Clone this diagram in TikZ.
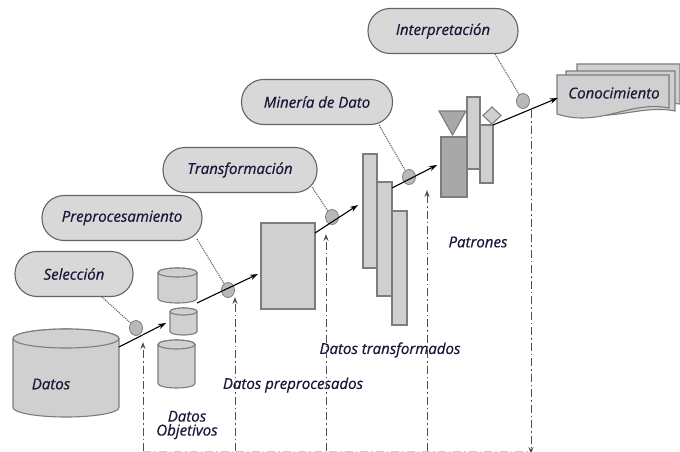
\documentclass[tikz,border=0pt]{standalone}
\usepackage{fontspec}
\setmainfont{Open Sans}[ItalicFeatures={FakeBold=0.6}]
\usetikzlibrary{shapes.geometric,arrows.meta,positioning}
\definecolor{boxfill}{RGB}{216,216,216}
\definecolor{boxline}{RGB}{100,100,100}
\definecolor{shapefill}{RGB}{208,208,208}
\definecolor{shapeline}{RGB}{125,125,125}
\definecolor{darkfill}{RGB}{168,168,168}
\definecolor{dotfill}{RGB}{185,185,185}
\definecolor{labelblue}{RGB}{24,24,58}
\definecolor{loopgray}{RGB}{80,80,80}
\tikzset{
  labelfont/.style={font=\fontsize{15}{17}\selectfont\itshape, text=labelblue},
  stagebox/.style={draw=boxline, fill=boxfill, rounded corners=22pt, minimum height=45pt, inner sep=0pt, line width=1.1pt, labelfont},
  bar/.style={draw=shapeline, fill=shapefill, inner sep=0pt, outer sep=0pt, line width=1.1pt},
  knot/.style={ellipse, draw=shapeline, fill=dotfill, minimum width=13pt, minimum height=15pt, inner sep=0pt, line width=0.8pt},
  flow/.style={-{Stealth[length=8pt,width=5.5pt]}, line width=1.1pt},
  hint/.style={densely dotted, line width=1.1pt, boxline},
  loopline/.style={loopgray, line width=1pt, dash pattern=on 8pt off 3pt on 1.5pt off 3pt},
}
\begin{document}
\begin{tikzpicture}[x=1pt, y=-1pt]
\useasboundingbox (0,0) rectangle (680,452);

%stages
\node (sel) [stagebox, minimum width=118pt] at (74,274) {Selección};
\node (prep) [stagebox, minimum width=160pt] at (122,218) {Preprocesamiento};
\node (trans) [stagebox, minimum width=154pt] at (240,170) {Transformación};
\node (mine) [stagebox, minimum width=151pt] at (317,102) {Minería de Dato};
\node (interp) [stagebox, minimum width=150pt] at (443,31) {Interpretación};

%data stores
\draw[bar] (13,338.5) -- (13,407.5) arc[start angle=180, end angle=0, x radius=53, y radius=9.5] -- (119,338.5) arc[start angle=0, end angle=-180, x radius=53, y radius=9.5];
\draw[bar] (66,338.5) ellipse[x radius=53, y radius=9.5];
\node (datos) [labelfont] at (51,384) {Datos};
\draw[bar] (158,272.5) -- (158,298.5) arc[start angle=180, end angle=0, x radius=19.5, y radius=4.5] -- (197,272.5) arc[start angle=0, end angle=-180, x radius=19.5, y radius=4.5];
\draw[bar] (177.5,272.5) ellipse[x radius=19.5, y radius=4.5];
\draw[bar] (170,311.5) -- (170,331.5) arc[start angle=180, end angle=0, x radius=13.5, y radius=3.5] -- (197,311.5) arc[start angle=0, end angle=-180, x radius=13.5, y radius=3.5];
\draw[bar] (183.5,311.5) ellipse[x radius=13.5, y radius=3.5];
\draw[bar] (158,344.5) -- (158,383.5) arc[start angle=180, end angle=0, x radius=18.5, y radius=4.5] -- (195,344.5) arc[start angle=0, end angle=-180, x radius=18.5, y radius=4.5];
\draw[bar] (176.5,344.5) ellipse[x radius=18.5, y radius=4.5];

%preprocessed, transformed, patterns
\node (pre) [bar, minimum width=54pt, minimum height=86pt] at (288,266) {};
\node (tr1) [bar, minimum width=14pt, minimum height=114pt] at (370,211) {};
\node (tr2) [bar, minimum width=15pt, minimum height=114pt] at (384.5,239) {};
\node (tr3) [bar, minimum width=15pt, minimum height=114pt] at (399.5,268) {};
\node (pat1) [bar, fill=darkfill, minimum width=26pt, minimum height=60pt] at (454,167) {};
\node (pat2) [bar, minimum width=13pt, minimum height=72pt] at (473.5,133) {};
\node (pat3) [bar, minimum width=13pt, minimum height=58pt] at (486.5,154) {};
\draw[bar, fill=darkfill] (439,111) -- (466,111) -- (452.5,135) -- cycle;
\draw[bar] (492,107) -- (501,115.5) -- (492,124) -- (483,115.5) -- cycle;

%knowledge
\draw[bar] (577,64) -- (680,64) -- (680,104) .. controls (650,100) and (620,118) .. (577,104) -- cycle;
\draw[bar] (566,71) -- (675,71) -- (675,111) .. controls (640,104) and (610,124) .. (566,111) -- cycle;
\draw[bar] (557,75) -- (669,75) -- (669,108) .. controls (630,100) and (600,128) .. (557,114) -- cycle;
\node (know) [labelfont, minimum width=112pt, minimum height=34pt, inner sep=0pt] at (614,93) {Conocimiento};

%labels
\node (objlbl) [labelfont, align=center] at (187,425) {Datos\\[-3pt]Objetivos};
\node (prelbl) [labelfont] at (293,385) {Datos preprocesados};
\node (trlbl) [labelfont] at (390,350) {Datos transformados};
\node (patlbl) [labelfont] at (478,242) {Patrones};

%steps
\node (k1) [knot] at (136,328) {};
\node (k2) [knot] at (228,290) {};
\node (k3) [knot] at (332,217) {};
\node (k4) [knot] at (409,177) {};
\node (k5) [knot] at (523,101) {};
\coordinate (s1) at (119,347);
\coordinate (e1) at (166,323);
\coordinate (s2) at (197,303);
\coordinate (e2) at (258,274);
\coordinate (e3) at (358,205);
\coordinate (e4) at (437,165);
\draw[flow] (s1) -- (e1);
\draw[flow] (s2) -- (e2);
\draw[flow] ([yshift=-10pt]pre.north east) -- (e3);
\draw[flow] ([yshift=-6pt]tr2.north east) -- (e4);
\draw[flow] (pat3.north east) -- ([yshift=-5pt]know.west);

\draw[hint] ([xshift=28pt]sel.south) -- (k1);
\draw[hint] ([xshift=75pt,yshift=2pt]prep.south) -- (k2);
\draw[hint] ([xshift=72pt,yshift=6pt]trans.south) -- (k3);
\draw[hint] ([xshift=62pt]mine.south) -- (k4);
\draw[hint] ([xshift=52pt]interp.south) -- (k5);

%feedback
\coordinate (b1) at (143,451);
\coordinate (b2) at (235,451);
\coordinate (b3) at (326,451);
\coordinate (b4) at (427,451);
\coordinate (b5) at (531,451);
\draw[loopline, gray!40, line width=0.6pt] (b1) -- (b5);
\draw[loopline, -{Stealth[length=7pt,width=5pt]}] (b1) -- (143,342);
\draw[loopline, -{Stealth[length=7pt,width=5pt]}] (b2) -- (235,297);
\draw[loopline, -{Stealth[length=7pt,width=5pt]}] (b3) -- (326,234);
\draw[loopline, -{Stealth[length=7pt,width=5pt]}] (b4) -- (427,190);
\draw[loopline, -{Stealth[length=7pt,width=5pt]}] (531,110) -- ([yshift=-3pt]b5);
\end{tikzpicture}
\end{document}
